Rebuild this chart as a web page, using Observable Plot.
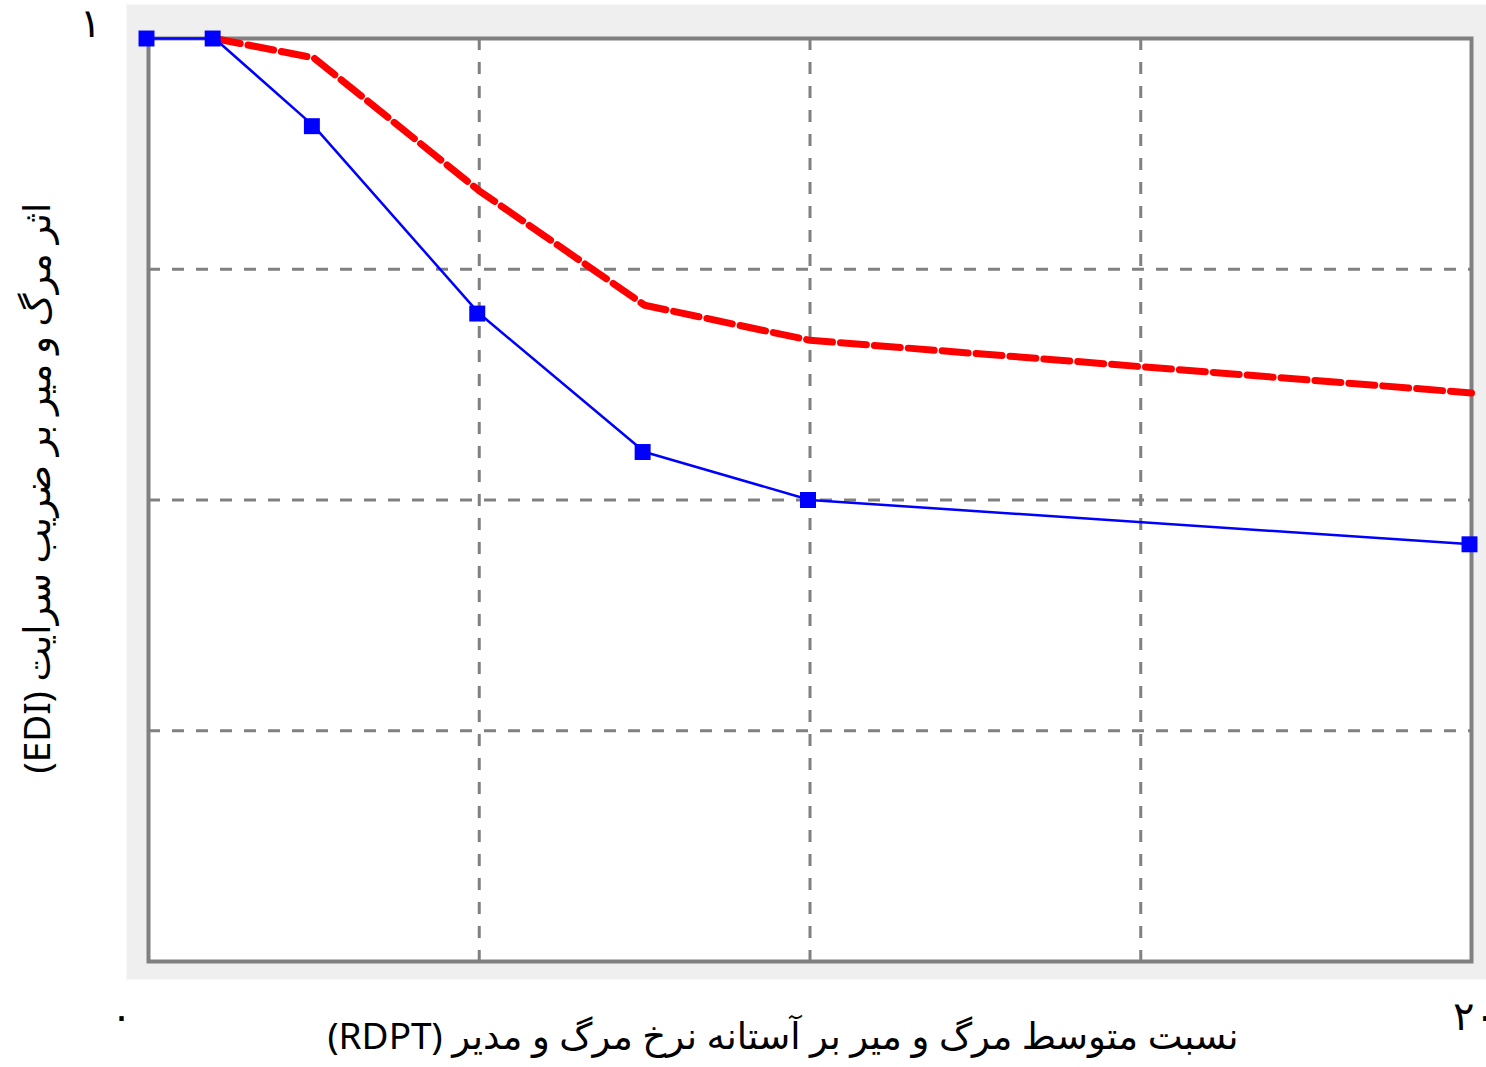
<!DOCTYPE html>
<html><head><meta charset="utf-8">
<script src="https://cdn.jsdelivr.net/npm/d3@7"></script>
<script src="https://cdn.jsdelivr.net/npm/@observablehq/plot@0.6"></script>
<style>
html,body{margin:0;padding:0;background:#fff;}
svg text{direction:rtl;}
</style></head><body>
<div id="chart"></div>
<script>
const xValues = [0, 1, 2.5, 5, 7.5, 10, 20];
const blueValues = [1, 1, 0.905, 0.702, 0.552, 0.5, 0.452];
const redX = [1, 2.5, 5, 7.5, 10, 20];
const redValues = [1, 0.979, 0.835, 0.711, 0.673, 0.616];
const xTicks = [0, 20];
const xTickLabels = ["۰", "۲۰"];
const yTicks = [1];
const yTickLabels = ["۱"];
const gridXValues = [5, 10, 15];
const gridYValues = [0.25, 0.5, 0.75];
const xLabel = "نسبت متوسط مرگ و میر بر آستانه نرخ مرگ و مدیر (RDPT)";
const yLabel = "اثر مرگ و میر بر ضریب سرایت (EDI)";

const blue = xValues.map((x, i) => ({x, y: blueValues[i]}));
const red = redX.map((x, i) => ({x, y: redValues[i]}));
const FONT = "'Noto Sans', 'DejaVu Sans', sans-serif";

const chart = Plot.plot({
  width: 1486,
  height: 1067,
  marginLeft: 148,
  marginRight: 15,
  marginTop: 38,
  marginBottom: 106,
  style: {fontFamily: FONT, background: "white", color: "black", overflow: "visible"},
  x: {domain: [0, 20], axis: null},
  y: {domain: [0, 1], axis: null},
  marks: [
    Plot.frame({fill: "#efefef", insetLeft: -22, insetTop: -34, insetRight: -15, insetBottom: -18}),
    Plot.frame({fill: "white"}),
    Plot.gridX(gridXValues, {stroke: "#808080", strokeOpacity: 1, strokeWidth: 3, strokeDasharray: "12,12"}),
    Plot.gridY(gridYValues, {stroke: "#808080", strokeOpacity: 1, strokeWidth: 3, strokeDasharray: "12,12"}),
    Plot.frame({stroke: "#808080", strokeWidth: 4}),
    Plot.line(red, {x: "x", y: "y", stroke: "#ff0000", strokeWidth: 7, strokeDasharray: "26,8", strokeLinejoin: "miter"}),
    Plot.line(blue, {x: "x", y: "y", stroke: "#0000ff", strokeWidth: 2.5}),
    Plot.dot(blue, {x: "x", y: "y", symbol: "square", r: 9, fill: "#0000ff", stroke: "none", dx: -2}),
    Plot.axisX([xTicks[0]], {tickFormat: d => xTickLabels[xTicks.indexOf(d)], tickSize: 0, tickPadding: 56, lineAnchor: "middle", dx: -27, fontSize: 40, label: null}),
    Plot.axisX([xTicks[1]], {tickFormat: d => xTickLabels[xTicks.indexOf(d)], tickSize: 0, tickPadding: 56, lineAnchor: "middle", dx: 3, fontSize: 40, label: null}),
    Plot.axisY(yTicks, {tickFormat: d => yTickLabels[yTicks.indexOf(d)], tickSize: 0, tickPadding: 58, textAnchor: "middle", dy: -14, fontSize: 40, label: null}),
    Plot.text([xLabel], {text: d => d, frameAnchor: "bottom", dx: -27, dy: 76, fontSize: 37, textAnchor: "middle", lineAnchor: "middle", fill: "black"}),
    Plot.text([yLabel], {text: d => d, frameAnchor: "left", rotate: -90, dx: -110, dy: -12, fontSize: 37, textAnchor: "middle", lineAnchor: "middle", fill: "black"})
  ]
});
document.getElementById("chart").appendChild(chart);
</script>
</body></html>
